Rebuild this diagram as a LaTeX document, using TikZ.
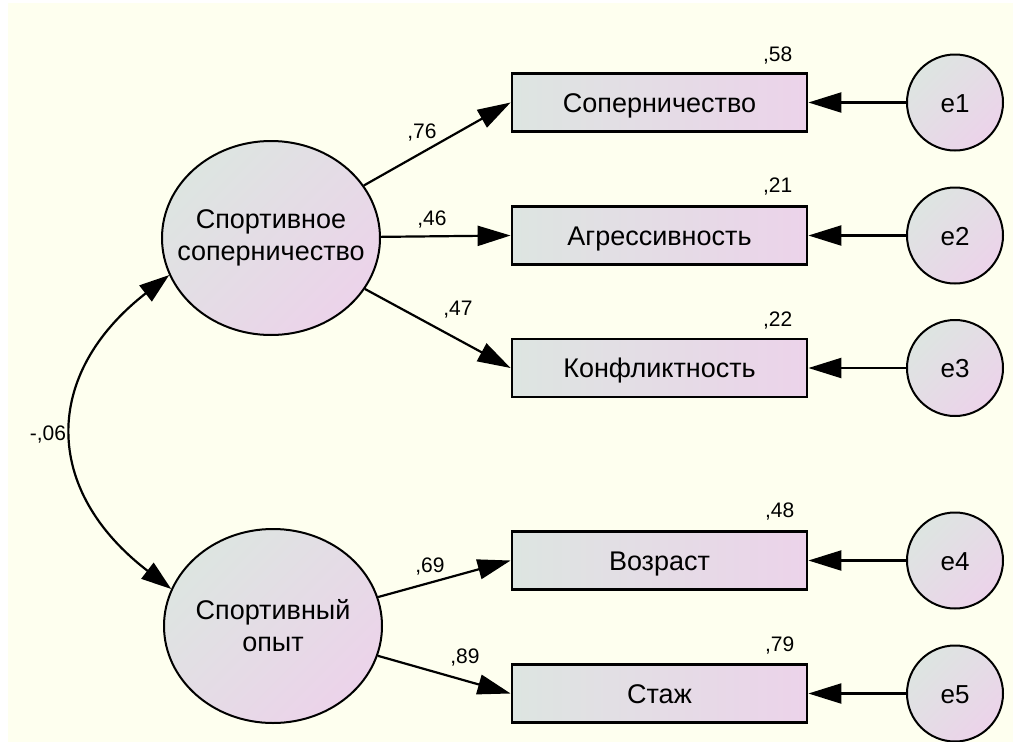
\documentclass[tikz,border=0pt]{standalone}
\usepackage{fontspec}
\setmainfont{Liberation Sans}
\usetikzlibrary{shapes.geometric,arrows.meta}
\definecolor{bgc}{RGB}{254,255,239}
\definecolor{gry}{RGB}{221,229,225}
\definecolor{pnk}{RGB}{236,211,234}
\tikzset{
 lat/.style={ellipse,draw,line width=2pt,top color=gry,bottom color=pnk,shading angle=45,
  minimum width=218pt,minimum height=194pt,inner sep=0pt},
 latxt/.style={align=center,font=\fontsize{27}{32}\selectfont},
 obs/.style={rectangle,draw,line width=2.8pt,left color=gry,right color=pnk,
  minimum width=295pt,minimum height=58pt,text height=19pt,text depth=0pt,font=\fontsize{27}{32}\selectfont},
 err/.style={circle,draw,line width=2pt,top color=gry,bottom color=pnk,shading angle=45,
  minimum size=96pt,text height=19pt,text depth=0pt,font=\fontsize{26}{30}\selectfont},
 coef/.style={inner sep=0pt,anchor=base,font=\fontsize{21}{24}\selectfont},
 rsq/.style={inner sep=0pt,anchor=base east,font=\fontsize{21}{24}\selectfont},
 conn/.style={line width=2.2pt,-{Triangle[length=33pt,width=20pt]}},
 cov/.style={line width=2.2pt,{Triangle[length=30pt,width=20pt]}-{Triangle[length=30pt,width=20pt]}}
}
\begin{document}
\begin{tikzpicture}[x=1pt,y=-1pt]
 \fill[white] (0,0) rectangle (1013,742);
 \fill[bgc] (8,3) rectangle (1013,742);
 \useasboundingbox (0,0) rectangle (1013,742);
 % latent variables
 \node[lat,label={[latxt]center:Спортивное\\соперничество}] (soper) at (271,238) {};
 \node[lat,label={[latxt]center:Спортивный\\опыт}] (opyt) at (273,626) {};
 % observed variables
 \node[obs] (sop) at (659.5,102.5) {Соперничество};
 \node[obs] (agr) at (659.5,235.5) {Агрессивность};
 \node[obs] (konf) at (659.5,368) {Конфликтность};
 \node[obs] (vozr) at (659.5,560.5) {Возраст};
 \node[obs] (stazh) at (659.5,693.5) {Стаж};
 % errors
 \node[err] (e1) at (955,102.5) {e1};
 \node[err] (e2) at (955,235.5) {e2};
 \node[err] (e3) at (955,368) {e3};
 \node[err] (e4) at (955,560.5) {e4};
 \node[err] (e5) at (955,693.5) {e5};
 \draw[conn] (soper) -- (sop.west);
 \draw[conn] (soper) -- (agr.west);
 \draw[conn] (soper) -- (konf.west);
 \draw[conn] (opyt) -- (vozr.west);
 \draw[conn] (opyt) -- (stazh.west);
 \draw[conn] (e1) -- (sop);
 \draw[conn] (e2) -- (agr);
 \draw[conn] (e3) -- (konf);
 \draw[conn] (e4) -- (vozr);
 \draw[conn] (e5) -- (stazh);
 \draw[cov] (soper.200) .. controls +(-127,99) and +(-129,-99) .. (opyt.160);
 % coefficients
 \node[coef] (c1) at (422,138) {,76};
 \node[coef] (c2) at (432,225) {,46};
 \node[coef] (c3) at (458,315) {,47};
 \node[coef] (c4) at (430,572) {,69};
 \node[coef] (c5) at (465,663) {,89};
 \node[coef] (c6) at (48,440) {-,06};
 \node[rsq] (q1) at ([shift={(-16,-11)}]sop.north east) {,58};
 \node[rsq] (q2) at ([shift={(-16,-13)}]agr.north east) {,21};
 \node[rsq] (q3) at ([shift={(-16,-11)}]konf.north east) {,22};
 \node[rsq] (q4) at ([shift={(-14,-13)}]vozr.north east) {,48};
 \node[rsq] (q5) at ([shift={(-14,-12)}]stazh.north east) {,79};
\end{tikzpicture}
\end{document}
